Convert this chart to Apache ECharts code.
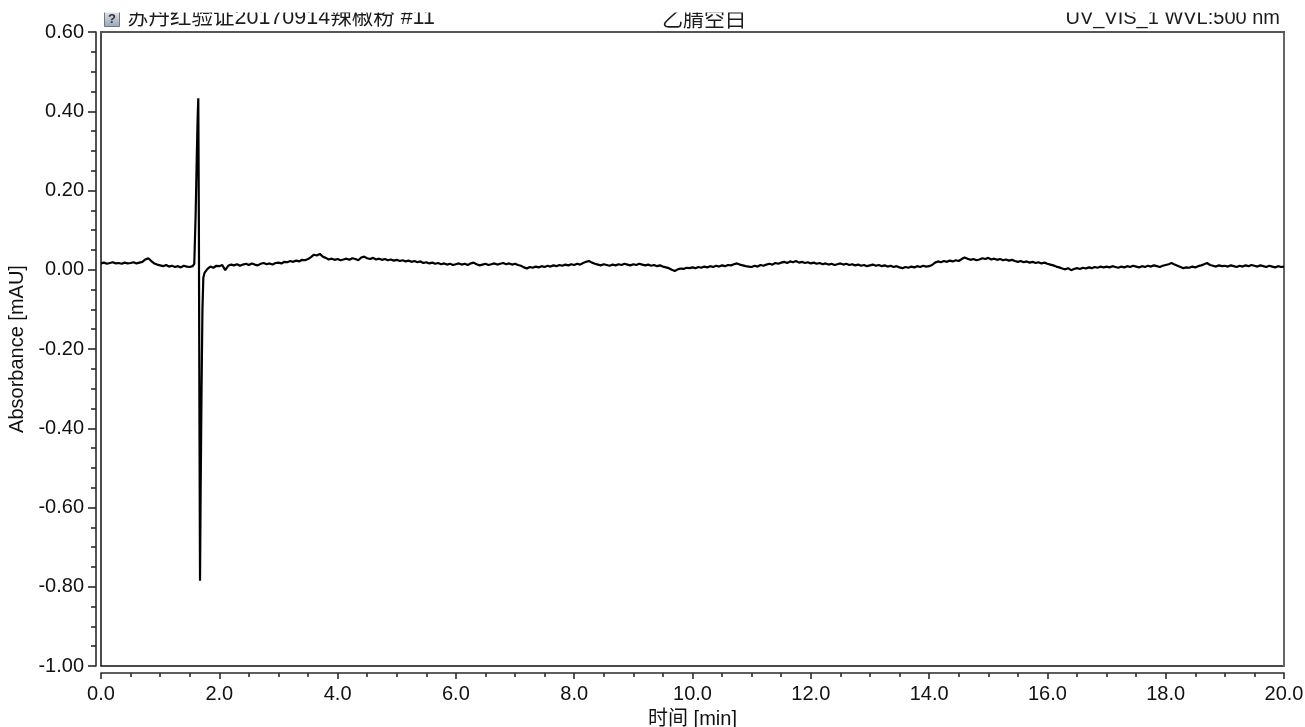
<!DOCTYPE html>
<html>
<head>
<meta charset="utf-8">
<script src="https://cdn.jsdelivr.net/npm/echarts@6/dist/echarts.min.js"></script>
<style>
  html, body { margin: 0; padding: 0; background: #fff; }
  #chart { width: 1305px; height: 727px; }
</style>
</head>
<body>
<div id="chart"></div>
<script>
// header texts
var sampleTitle = '苏丹红验证20170914辣椒粉 #11'
var injectTitle = '乙腈空白'
var channelTitle = 'UV_VIS_1 WVL:500 nm'

// sampling grid of the detector trace (min)
var sampleStep = 0.05

// baseline before the injection spike, t = 0.00 .. 1.55
var baselineA = [
  0.016, 0.018, 0.015, 0.017, 0.019, 0.016, 0.017, 0.015, 0.018, 0.016,
  0.017, 0.019, 0.016, 0.018, 0.020, 0.026, 0.029, 0.022, 0.016, 0.013,
  0.011, 0.009, 0.012, 0.008, 0.010, 0.007, 0.009, 0.006, 0.010, 0.008,
  0.007, 0.009
]

// injection spike (min, mAU)
var spikeTimes  = [1.577, 1.60, 1.62, 1.635, 1.645, 1.655, 1.665, 1.674, 1.685, 1.70, 1.715, 1.73, 1.75]
var spikeValues = [0.015, 0.14, 0.29, 0.39, 0.433, 0.10, -0.40, -0.785, -0.55, -0.30, -0.10, -0.02, -0.008]

// baseline after the spike, t = 1.80 .. 20.00
var baselineStartB = 1.80
var baselineB = [
  0.002, 0.008, 0.005, 0.010,
  0.009, 0.012, -0.001, 0.010, 0.013, 0.011, 0.014, 0.010, 0.013, 0.015, 0.012, 0.016, 0.013, 0.011, 0.015, 0.017, 0.014, 0.016, 0.013, 0.017,
  0.018, 0.016, 0.020, 0.019, 0.022, 0.020, 0.023, 0.021, 0.025, 0.024, 0.027, 0.032, 0.038, 0.036, 0.040, 0.033, 0.030, 0.026, 0.028, 0.025,
  0.027, 0.024, 0.026, 0.028, 0.025, 0.029, 0.027, 0.024, 0.031, 0.033, 0.029, 0.027, 0.030, 0.026, 0.028, 0.025, 0.027, 0.024, 0.026, 0.023,
  0.025, 0.022, 0.024, 0.021, 0.023, 0.020, 0.022, 0.019, 0.021, 0.017, 0.019, 0.016, 0.018, 0.015, 0.017, 0.014, 0.016, 0.013, 0.015, 0.012,
  0.014, 0.016, 0.013, 0.015, 0.012, 0.016, 0.018, 0.014, 0.011, 0.013, 0.015, 0.012, 0.014, 0.016, 0.013, 0.015, 0.017, 0.014, 0.016, 0.013,
  0.015, 0.012, 0.010, 0.006, 0.003, 0.007, 0.005, 0.008, 0.006, 0.009, 0.007, 0.010, 0.008, 0.011, 0.009, 0.012, 0.010, 0.013, 0.011, 0.014,
  0.012, 0.015, 0.013, 0.017, 0.020, 0.022, 0.018, 0.015, 0.013, 0.011, 0.014, 0.012, 0.010, 0.013, 0.011, 0.014, 0.012, 0.015, 0.013, 0.011,
  0.014, 0.012, 0.015, 0.013, 0.011, 0.013, 0.010, 0.012, 0.009, 0.011, 0.008, 0.006, 0.004, 0.000, -0.003, 0.001, 0.003, 0.002, 0.005, 0.004,
  0.006, 0.004, 0.007, 0.005, 0.008, 0.006, 0.009, 0.007, 0.010, 0.008, 0.011, 0.009, 0.012, 0.011, 0.014, 0.016, 0.013, 0.011, 0.009, 0.008,
  0.007, 0.010, 0.008, 0.012, 0.010, 0.013, 0.015, 0.013, 0.017, 0.015, 0.018, 0.020, 0.017, 0.021, 0.019, 0.022, 0.018, 0.020, 0.017, 0.019,
  0.016, 0.018, 0.015, 0.017, 0.014, 0.016, 0.013, 0.015, 0.012, 0.014, 0.016, 0.013, 0.015, 0.012, 0.014, 0.011, 0.013, 0.010, 0.012, 0.009,
  0.011, 0.013, 0.010, 0.012, 0.009, 0.011, 0.008, 0.010, 0.007, 0.009, 0.006, 0.004, 0.007, 0.005, 0.008, 0.006, 0.009, 0.007, 0.010, 0.008,
  0.009, 0.012, 0.018, 0.021, 0.019, 0.022, 0.020, 0.023, 0.021, 0.024, 0.022, 0.027, 0.031, 0.028, 0.025, 0.027, 0.024, 0.026, 0.029, 0.027,
  0.030, 0.026, 0.028, 0.025, 0.027, 0.024, 0.026, 0.023, 0.025, 0.022, 0.020, 0.022, 0.019, 0.021, 0.018, 0.020, 0.017, 0.019, 0.016, 0.018,
  0.015, 0.013, 0.011, 0.008, 0.006, 0.003, 0.001, 0.004, -0.001, 0.002, 0.004, 0.002, 0.005, 0.003, 0.006, 0.004, 0.007, 0.005, 0.008, 0.006,
  0.008, 0.006, 0.009, 0.007, 0.005, 0.008, 0.006, 0.009, 0.007, 0.010, 0.008, 0.006, 0.009, 0.007, 0.010, 0.008, 0.011, 0.009, 0.007, 0.010,
  0.012, 0.014, 0.017, 0.013, 0.010, 0.007, 0.004, 0.006, 0.005, 0.008, 0.006, 0.009, 0.011, 0.014, 0.017, 0.012, 0.010, 0.008, 0.011, 0.009,
  0.010, 0.008, 0.011, 0.009, 0.007, 0.010, 0.008, 0.011, 0.009, 0.012, 0.010, 0.008, 0.011, 0.009, 0.007, 0.010, 0.008, 0.006, 0.009, 0.007,
  0.008
]

// build [time, value] pairs
var trace = []
baselineA.forEach(function (v, i) { trace.push([+(i * sampleStep).toFixed(3), v]) })
spikeTimes.forEach(function (t, i) { trace.push([t, spikeValues[i]]) })
baselineB.forEach(function (v, i) { trace.push([+(baselineStartB + i * sampleStep).toFixed(3), v]) })

var latin = '"Liberation Sans", Arial, "Noto Sans CJK SC", sans-serif'
var cjk = '"Noto Sans CJK SC", "Liberation Sans", sans-serif'
var axisColor = '#2a2a2a'

var chart = echarts.init(document.getElementById('chart'), null, { renderer: 'canvas' })

var option = {
  animation: false,
  backgroundColor: '#fff',
  grid: {
    left: 101, right: 21, top: 32, bottom: 61,
    outerBoundsMode: 'none',
    containLabel: false,
    show: true, borderColor: '#111', borderWidth: 1.5
  },
  xAxis: [
    {
      type: 'value', min: 0, max: 20, interval: 2, offset: 7,
      axisLine: { show: true, onZero: false, lineStyle: { color: axisColor, width: 1.6 } },
      axisTick: { show: true, length: 6, lineStyle: { color: axisColor, width: 1.6 } },
      minorTick: { show: true, splitNumber: 4, length: 4, lineStyle: { color: axisColor, width: 1.6 } },
      splitLine: { show: false },
      axisLabel: {
        margin: 11, fontSize: 20, color: '#111', fontFamily: latin,
        formatter: function (v) { return v.toFixed(1) }
      },
      name: '时间 [min]', nameLocation: 'middle', nameGap: 36,
      nameTextStyle: { fontSize: 20, color: '#111', fontFamily: latin }
    },
    {
      type: 'value', min: 0, max: 20, position: 'top',
      axisLine: { show: true, onZero: false, lineStyle: { color: '#555', width: 2 } },
      axisTick: { show: false }, axisLabel: { show: false }, splitLine: { show: false }
    }
  ],
  yAxis: [
    {
      type: 'value', min: -1, max: 0.6, interval: 0.2, offset: 5,
      axisLine: { show: true, onZero: false, lineStyle: { color: axisColor, width: 1.6 } },
      axisTick: { show: true, length: 8, lineStyle: { color: axisColor, width: 1.6 } },
      minorTick: { show: true, splitNumber: 4, length: 5, lineStyle: { color: axisColor, width: 1.6 } },
      splitLine: { show: false },
      axisLabel: {
        margin: 12, fontSize: 20, color: '#111', fontFamily: latin,
        formatter: function (v) { return v.toFixed(2) }
      },
      name: 'Absorbance [mAU]', nameLocation: 'middle', nameGap: 66,
      nameTextStyle: { fontSize: 20, color: '#111', fontFamily: latin }
    },
    {
      type: 'value', min: -1, max: 0.6, position: 'right',
      axisLine: { show: true, onZero: false, lineStyle: { color: '#666', width: 2 } },
      axisTick: { show: false }, axisLabel: { show: false }, splitLine: { show: false }
    }
  ],
  series: [
    {
      type: 'line',
      data: trace,
      showSymbol: false,
      sampling: false,
      lineStyle: { color: '#000', width: 2.2 }
    }
  ],
  graphic: [
    {
      type: 'rect', shape: { x: 104.5, y: 10.5, width: 15, height: 16 },
      style: {
        fill: new echarts.graphic.LinearGradient(0, 0, 0, 1, [
          { offset: 0, color: '#e4e9ef' }, { offset: 1, color: '#9aa6b3' }
        ]),
        stroke: '#6d7884', lineWidth: 1
      }
    },
    {
      type: 'text', x: 112, y: 19,
      style: { text: '?', font: 'bold 13px ' + latin, fill: '#2c3440', align: 'center', verticalAlign: 'middle' }
    },
    {
      type: 'text', x: 127, y: 18,
      style: { text: sampleTitle, font: '21.5px ' + latin, fill: '#1c1c1c', align: 'left', verticalAlign: 'middle' }
    },
    {
      type: 'text', x: 704, y: 18,
      style: { text: injectTitle, font: '21px ' + cjk, fill: '#1c1c1c', align: 'center', verticalAlign: 'middle' }
    },
    {
      type: 'text', x: 1280, y: 18,
      style: { text: channelTitle, font: '20px ' + latin, fill: '#1c1c1c', align: 'right', verticalAlign: 'middle' }
    },
    {
      // the page header is cut off at the top in the original print
      type: 'rect', z: 100, shape: { x: 0, y: 0, width: 1305, height: 12.5 },
      style: { fill: '#fff' }
    }
  ]
}

chart.setOption(option)
</script>
</body>
</html>
